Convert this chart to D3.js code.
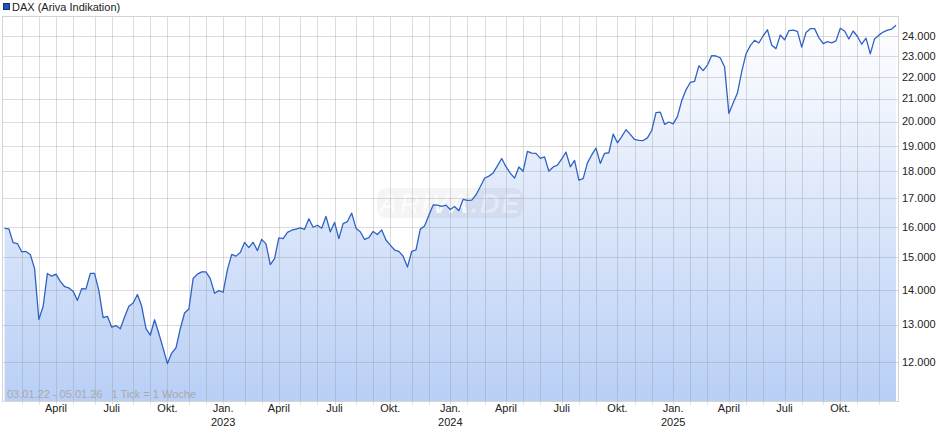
<!DOCTYPE html>
<html>
<head>
<meta charset="utf-8">
<script src="https://cdn.jsdelivr.net/npm/d3@7"></script>
<style>
  html, body { margin: 0; padding: 0; background: #fff; }
  svg { display: block; font-family: "Liberation Sans", Arial, sans-serif; }
  .pre { white-space: pre; }
</style>
</head>
<body>
<svg id="chart" width="940" height="435"></svg>
<script>
// ---------- DATA ----------
const seriesName = "DAX (Ariva Indikation)";
const firstWeek = "2022-01-03";           // Monday of first weekly tick
const rangeText = "03.01.22 - 05.01.26   1 Tick = 1 Woche";

const dax2022 = [15945,15930,15470,15440,15171,15184,15087,14647,13143,13514,
  14491,14406,14469,14250,14094,14053,13951,13686,14031,14022,
  14490,14490,13971,13191,13229,12929,12974,12887,13209,13514,
  13609,13857,13514,12887,12710,13134,12755,12360,11970,12237,
  12376,12887,13323,13437,14334,14469,14540,14540,14334,13894,
  13971,13924];
const dax2023 = [14610,15087,15033,15150,15476,15308,15482,15210,15578,15428,
  14768,14957,15629,15598,15808,15882,15922,15961,15914,16275,
  15984,16051,15950,16358,15830,16148,15603,16105,16177,16469,
  15952,15832,15574,15632,15840,15740,15894,15557,15387,15229,
  15187,15030,14687,15189,15234,15919,16029,16398,16759,16751,
  16706,16752];
const dax2024 = [16594,16704,16555,16961,16918,16927,17117,17419,17735,17815,
  17936,18206,18492,18175,17930,17737,18161,18001,18773,18704,
  18693,18498,18557,18002,18164,18235,18475,18748,18172,18417,
  17661,17723,18322,18633,18906,18302,18699,18720,19474,19121,
  19374,19657,19464,19255,19215,19211,19323,19626,20385,20406,
  19885,19984];
const dax2025 = [19906,20215,20903,21395,21732,21787,22514,22287,22551,23009,
  22987,22892,22461,20350,20800,21250,22242,23087,23499,23767,
  23630,23997,24304,23516,23350,24033,23787,24255,24290,24218,
  23426,24163,24359,24363,23902,23597,23698,23639,23739,24379,
  24241,23831,24240,23958,23569,23876,23091,23836,24028,24186,
  24288,24340,24540];

const yTickValues = [12000,13000,14000,15000,16000,17000,18000,19000,20000,21000,22000,23000,24000];
const monthLabels = ["Jan.","","","April","","","Juli","","","Okt.","",""];

// ---------- SETUP ----------
const values = [].concat(dax2022, dax2023, dax2024, dax2025);
const svg = d3.select("#chart");

const frame = {left: 2.5, right: 898.5, top: 16.5, bottom: 401.5};

const x = d3.scaleLinear().domain([0, 209]).range([4.56, 900.3]);
const y = d3.scaleLog().domain([11054, 24987]).range([401, 16.7]);

const de = d3.formatLocale({decimal: ",", thousands: ".", grouping: [3], currency: ["", " €"]});
const fmt = de.format(",");

const start = d3.timeParse("%Y-%m-%d")(firstWeek);
function weekIndex(d) {
  const days = Math.round((d - start) / 864e5);
  return Math.floor(days / 7);
}
const months = d3.timeMonth.range(new Date(2022, 1, 1), new Date(2026, 0, 1));

// defs
const defs = svg.append("defs");
const grad = defs.append("linearGradient")
  .attr("id", "areaGrad").attr("gradientUnits", "userSpaceOnUse")
  .attr("x1", 0).attr("x2", 0).attr("y1", frame.top).attr("y2", frame.bottom);
grad.append("stop").attr("offset", "0%").attr("stop-color", "#ffffff");
grad.append("stop").attr("offset", "100%").attr("stop-color", "#b9cff6");

defs.append("clipPath").attr("id", "plotClip")
  .append("rect")
  .attr("x", frame.left).attr("y", frame.top)
  .attr("width", frame.right - frame.left).attr("height", frame.bottom - frame.top);

// area
const area = d3.area()
  .x((d, i) => x(i))
  .y0(frame.bottom)
  .y1(d => y(d));
svg.append("path")
  .datum(values)
  .attr("clip-path", "url(#plotClip)")
  .attr("d", area)
  .attr("fill", "url(#areaGrad)");

// watermark
const wm = svg.append("g");
wm.append("rect")
  .attr("x", 377).attr("y", 188).attr("width", 146).attr("height", 30)
  .attr("rx", 9).attr("fill", "#000").attr("fill-opacity", 0.04);
const wt = wm.append("text")
  .attr("x", 450).attr("y", 213)
  .attr("text-anchor", "middle")
  .attr("font-size", 27).attr("font-weight", "bold").attr("font-style", "italic")
  .attr("letter-spacing", 2);
wt.append("tspan").text("ARIVA")
  .attr("fill", "#fff").attr("fill-opacity", 0.8)
  .attr("stroke", "#000").attr("stroke-opacity", 0.04).attr("stroke-width", 1);
wt.append("tspan").text(".DE")
  .attr("fill", "#fff").attr("fill-opacity", 0.4);

// grid
const grid = svg.append("g");
grid.selectAll("line.h")
  .data(yTickValues)
  .join("line")
  .attr("x1", frame.left).attr("x2", frame.right)
  .attr("y1", d => Math.round(y(d)) + 0.5).attr("y2", d => Math.round(y(d)) + 0.5)
  .attr("stroke", "rgb(140,140,140)").attr("stroke-opacity", 0.3);
grid.selectAll("line.v")
  .data(months)
  .join("line")
  .attr("x1", d => Math.round(x(weekIndex(d))) + 0.5)
  .attr("x2", d => Math.round(x(weekIndex(d))) + 0.5)
  .attr("y1", frame.top).attr("y2", frame.bottom + 3)
  .attr("stroke", "rgb(140,140,140)").attr("stroke-opacity", 0.3);

// frame
svg.append("rect")
  .attr("x", frame.left).attr("y", frame.top)
  .attr("width", frame.right - frame.left).attr("height", frame.bottom - frame.top)
  .attr("fill", "none").attr("stroke", "#d4d4d4");

// line
svg.append("path")
  .datum(values)
  .attr("clip-path", "url(#plotClip)")
  .attr("d", d3.line().x((d, i) => x(i)).y(d => y(d)))
  .attr("fill", "none")
  .attr("stroke", "#2f62c4")
  .attr("stroke-width", 1.3)
  .attr("stroke-linejoin", "round");

// y axis labels (right)
svg.append("g").selectAll("text")
  .data(yTickValues)
  .join("text")
  .attr("x", 902)
  .attr("y", d => y(d))
  .attr("dy", "0.35em")
  .attr("font-size", 11)
  .attr("fill", "#222")
  .text(d => fmt(d));

// x axis labels
const xl = svg.append("g");
months.filter(d => monthLabels[d.getMonth()] !== "").forEach(d => {
  const cx = x(weekIndex(d));
  xl.append("text")
    .attr("x", cx).attr("y", 412)
    .attr("text-anchor", "middle")
    .attr("font-size", 11).attr("fill", "#222")
    .text(monthLabels[d.getMonth()]);
  if (d.getMonth() === 0) {
    xl.append("text")
      .attr("x", cx).attr("y", 426)
      .attr("text-anchor", "middle")
      .attr("font-size", 11).attr("fill", "#222")
      .text(d.getFullYear());
  }
});

// range note
svg.append("text")
  .attr("class", "pre")
  .attr("x", 7).attr("y", 398)
  .attr("font-size", 11).attr("fill", "#a9a9a9")
  .text(rangeText);

// legend
svg.append("rect")
  .attr("x", 3.5).attr("y", 3.5).attr("width", 6).attr("height", 6)
  .attr("fill", "#1f55c0").attr("stroke", "#16306e").attr("stroke-width", 1);
svg.append("text")
  .attr("x", 12).attr("y", 11)
  .attr("font-size", 11).attr("fill", "#222")
  .text(seriesName);
</script>
</body>
</html>
